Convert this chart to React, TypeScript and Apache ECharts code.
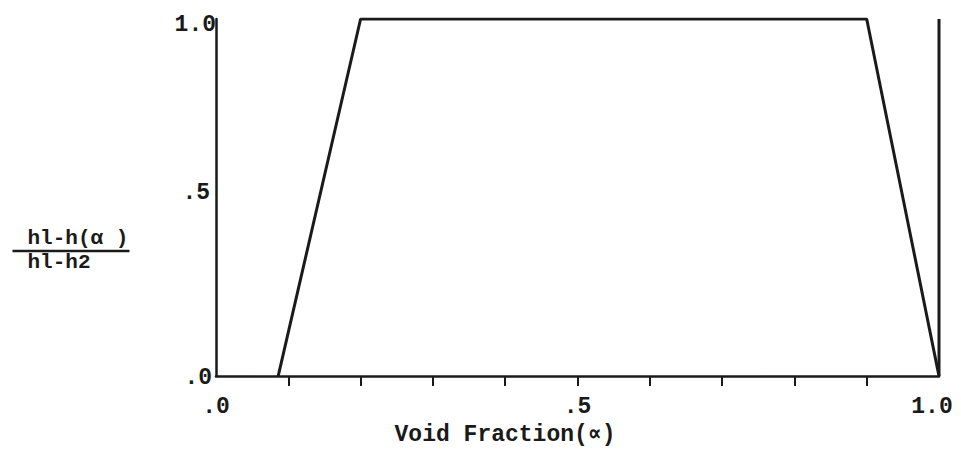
import React, { useEffect, useRef } from "react";
import * as echarts from "echarts";

// Piecewise curve: normalised enthalpy ratio vs. void fraction
const voidFraction = [0.086, 0.2, 0.9, 1.0];
const enthalpyRatio = [0, 1.0, 1.0, 0];

// Right-hand boundary at void fraction 1.0
const boundaryX = [1.0, 1.0];
const boundaryY = [0, 1.0];

// Axis ticks and labels
const xTickValues = [0.1, 0.2, 0.3, 0.4, 0.5, 0.6, 0.7, 0.8, 0.9];
const xLabelValues = [0, 0.5, 1.0];
const xLabelTexts = [".0", ".5", "1.0"];
const yLabelValues = [0, 0.5, 1.0];
const yLabelTexts = [".0", ".5", "1.0"];

const xAxisTitle = "Void Fraction(\u221D)";
const yTitleTop = "hl-h(\u03B1 )";
const yTitleBottom = "hl-h2";

const FONT = '"Liberation Mono", "Courier New", monospace';
const INK = "#1a1a1a";

function lookup(values: number[], texts: string[], v: number): string {
  for (let i = 0; i < values.length; i++) {
    if (Math.abs(values[i] - v) < 1e-6) return texts[i];
  }
  return "";
}

const labelStyle = (padding: number[]) => ({
  fontFamily: FONT,
  fontSize: 23,
  fontWeight: "bold",
  color: INK,
  padding,
});

export default function App() {
  const ref = useRef<HTMLDivElement>(null);

  useEffect(() => {
    document.body.style.margin = "0";
    if (!ref.current) return;
    const chart = echarts.init(ref.current, null, { renderer: "svg" });
    chart.setOption({
      animation: false,
      backgroundColor: "#ffffff",
      grid: { left: 216, right: 22, top: 19, bottom: 70, containLabel: false },
      xAxis: {
        type: "value",
        min: 0,
        max: 1,
        name: xAxisTitle,
        nameLocation: "middle",
        nameGap: 36,
        nameTextStyle: {
          fontFamily: FONT,
          fontSize: 23,
          fontWeight: "bold",
          color: INK,
          padding: [0, 145, 0, 0],
        },
        axisLine: { show: true, lineStyle: { color: INK, width: 2.5 } },
        axisTick: {
          show: true,
          length: 10,
          customValues: xTickValues,
          lineStyle: { color: INK, width: 2 },
        },
        axisLabel: {
          customValues: xLabelValues,
          margin: 19,
          fontFamily: FONT,
          fontSize: 23,
          fontWeight: "bold",
          color: INK,
          formatter: (v: number) => {
            const t = lookup(xLabelValues, xLabelTexts, v);
            if (v >= 0.999) return "{end|" + t + "}";
            if (v <= 0.001) return "{start|" + t + "}";
            return "{mid|" + t + "}";
          },
          rich: {
            end: labelStyle([0, 14, 0, 0]),
            start: labelStyle([0, 0, 4, 0]),
            mid: labelStyle([0, 0, 2, 0]),
          },
        },
        splitLine: { show: false },
      },
      yAxis: {
        type: "value",
        min: 0,
        max: 1,
        axisLine: { show: true, lineStyle: { color: INK, width: 2.5 } },
        axisTick: { show: false },
        axisLabel: {
          customValues: yLabelValues,
          margin: 0,
          fontFamily: FONT,
          fontSize: 23,
          fontWeight: "bold",
          color: INK,
          formatter: (v: number) => {
            const t = lookup(yLabelValues, yLabelTexts, v);
            if (v >= 0.999) return "{top|" + t + "}";
            if (Math.abs(v - 0.5) < 1e-6) return "{mid|" + t + "}";
            return "{low|" + t + "}";
          },
          rich: {
            top: labelStyle([12, 0, 0, 0]),
            mid: labelStyle([0, 6, 10, 0]),
            low: labelStyle([4, 4, 0, 0]),
          },
        },
        splitLine: { show: false },
      },
      series: [
        {
          type: "line",
          data: voidFraction.map((x, i) => [x, enthalpyRatio[i]]),
          showSymbol: false,
          lineStyle: { color: INK, width: 3 },
        },
        {
          type: "line",
          data: boundaryX.map((x, i) => [x, boundaryY[i]]),
          showSymbol: false,
          lineStyle: { color: INK, width: 3 },
        },
      ],
      graphic: [
        {
          type: "group",
          left: 10,
          top: 228,
          children: [
            {
              type: "text",
              x: 15,
              y: 0,
              style: {
                text: yTitleTop,
                fontFamily: FONT,
                fontSize: 21,
                fontWeight: "bold",
                fill: INK,
              },
            },
            {
              type: "line",
              shape: { x1: 0, y1: 23, x2: 117, y2: 23 },
              style: { stroke: INK, lineWidth: 2.5 },
            },
            {
              type: "text",
              x: 15,
              y: 24,
              style: {
                text: yTitleBottom,
                fontFamily: FONT,
                fontSize: 21,
                fontWeight: "bold",
                fill: INK,
              },
            },
          ],
        },
      ],
    });
    return () => chart.dispose();
  }, []);

  return <div ref={ref} style={{ width: 961, height: 451 }} />;
}
